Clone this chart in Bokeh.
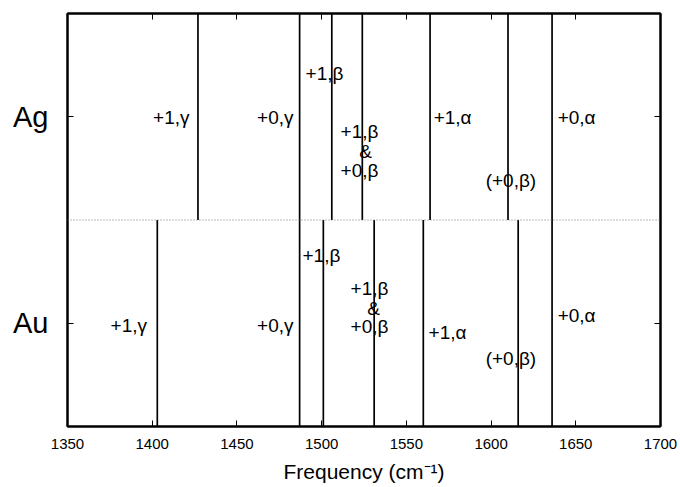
from bokeh.plotting import figure
from bokeh.models import (LinearAxis, FixedTicker, Span, ColumnDataSource, Range1d)
from bokeh.embed import file_html
from bokeh.resources import INLINE
from bokeh.core.properties import value

# ---- data ----
panels = ["Au", "Ag"]
panel_centers = [0.5, 1.5]

ag_freqs = [1427, 1487, 1506, 1524, 1564, 1610, 1636]
au_freqs = [1403, 1487, 1501, 1531, 1560, 1616, 1636]

x_ticks = [1350, 1400, 1450, 1500, 1550, 1600, 1650, 1700]

label_text = ["+1,γ", "+0,γ", "+1,β", "+1,β", "&", "+0,β", "+1,α", "(+0,β)", "+0,α",
              "+1,γ", "+0,γ", "+1,β", "+1,β", "&", "+0,β", "+1,α", "(+0,β)", "+0,α"]
label_x = [1422.0, 1483.4, 1490.5, 1511.2, 1525.9, 1511.2, 1566.1, 1596.8, 1639.3,
           1375.4, 1483.4, 1488.7, 1517.1, 1530.6, 1517.1, 1563.1, 1596.8, 1639.3]
label_y = [1.496, 1.496, 1.709, 1.429, 1.332, 1.240, 1.496, 1.191, 1.496,
           0.489, 0.489, 0.828, 0.668, 0.571, 0.484, 0.455, 0.329, 0.538]
label_align = ["right", "right", "left", "left", "center", "left", "left", "left", "left",
               "left", "right", "left", "left", "center", "left", "left", "left", "left"]

FONT = "Liberation Sans"

p = figure(width=680, height=487, output_backend="svg", toolbar_location=None,
           x_range=Range1d(1350, 1700), y_range=Range1d(0, 2),
           min_border_left=67, min_border_right=20, min_border_top=13, min_border_bottom=61)

p.xgrid.visible = False
p.ygrid.visible = False
p.outline_line_color = "black"
p.outline_line_width = 2
p.background_fill_color = "white"
p.border_fill_color = "white"

# vertical lines
p.segment(x0=ag_freqs, x1=ag_freqs, y0=[1] * len(ag_freqs), y1=[2] * len(ag_freqs),
          line_color="black", line_width=1.7)
p.segment(x0=au_freqs, x1=au_freqs, y0=[0] * len(au_freqs), y1=[1] * len(au_freqs),
          line_color="black", line_width=1.7)

# separator
p.add_layout(Span(location=1, dimension="width", line_color="#777777",
                  line_width=1, line_dash="1 2"))

# labels
src = ColumnDataSource(dict(x=label_x, y=label_y, t=label_text, a=label_align))
p.text(x="x", y="y", text="t", text_align="a", text_baseline="middle", source=src,
       text_font=value(FONT), text_font_size=value("19px"), text_color="black")

# bottom axis
xa = p.xaxis[0]
xa.ticker = FixedTicker(ticks=x_ticks)
xa.major_tick_in = 6
xa.major_tick_out = 0
xa.minor_tick_line_color = None
xa.axis_line_color = "black"
xa.axis_line_width = 2
xa.major_label_text_font = FONT
xa.major_label_text_font_size = "15px"
xa.major_label_text_color = "black"
xa.major_label_standoff = 12
xa.axis_label = "Frequency (cm⁻¹)"
xa.axis_label_text_font = FONT
xa.axis_label_text_font_size = "21px"
xa.axis_label_text_font_style = "normal"
xa.axis_label_text_color = "black"
xa.axis_label_standoff = 8

# left axis
ya = p.yaxis[0]
ya.ticker = FixedTicker(ticks=panel_centers)
ya.major_label_overrides = {c: n for c, n in zip(panel_centers, panels)}
ya.major_tick_in = 6
ya.major_tick_out = 0
ya.minor_tick_line_color = None
ya.axis_line_color = "black"
ya.axis_line_width = 2
ya.major_label_text_font = FONT
ya.major_label_text_font_size = "29px"
ya.major_label_text_color = "black"
ya.major_label_standoff = 19
ya.major_label_orientation = "horizontal"

# top axis
ta = LinearAxis(ticker=FixedTicker(ticks=x_ticks), major_tick_in=6, major_tick_out=0,
                minor_tick_line_color=None, major_label_text_font_size="0px",
                major_label_text_color=None, axis_line_color="black", axis_line_width=2)
p.add_layout(ta, "above")

# right axis
ra = LinearAxis(ticker=FixedTicker(ticks=panel_centers), major_tick_in=6, major_tick_out=0,
                minor_tick_line_color=None, major_label_text_font_size="0px",
                major_label_text_color=None, axis_line_color="black", axis_line_width=2)
p.add_layout(ra, "right")

open("out.html", "w").write(file_html(p, INLINE))
